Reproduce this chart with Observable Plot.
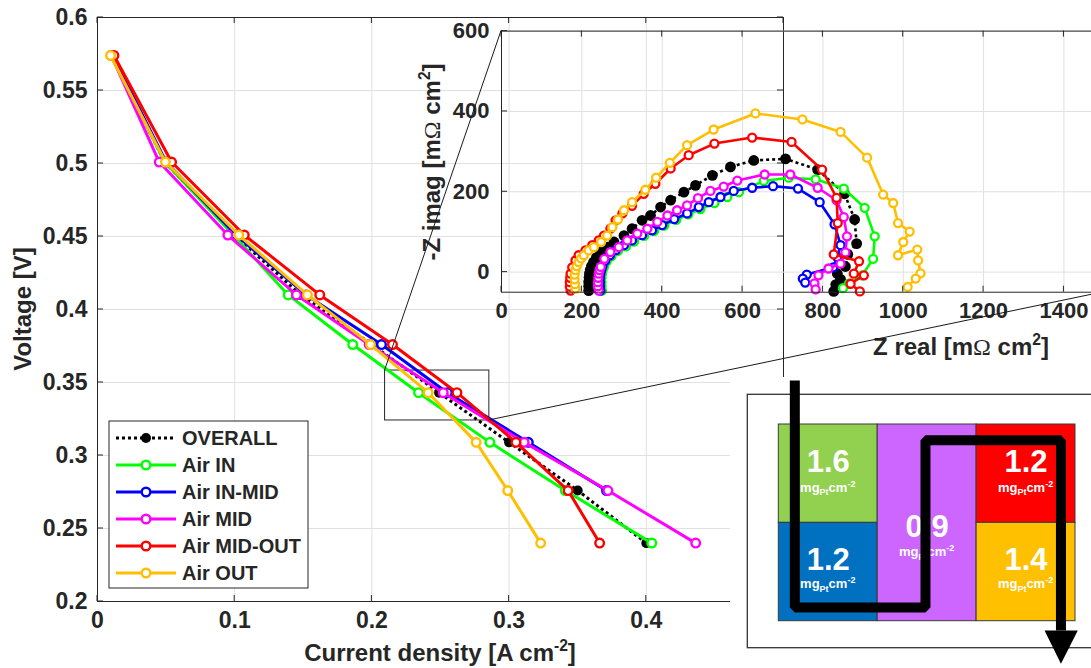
<!DOCTYPE html>
<html><head><meta charset="utf-8">
<script src="https://cdn.jsdelivr.net/npm/d3@7"></script>
<script src="https://cdn.jsdelivr.net/npm/@observablehq/plot@0.6"></script>
<style>
html,body{margin:0;padding:0;background:#fff;}
#wrap{position:relative;width:1091px;height:668px;overflow:hidden;}
#wrap svg{position:absolute;left:0;top:0;}
</style></head><body><div id="wrap"></div>
<script>
// ---------------- data ----------------
const seriesNames  = ["OVERALL", "Air IN", "Air IN-MID", "Air MID", "Air MID-OUT", "Air OUT"];
const seriesColors = ["#000000", "#00ff00", "#0000ff", "#ff00ff", "#ff0000", "#ffbf00"];

// polarization curves: voltage steps [V] and current density [A cm-2] per segment
const voltageSteps     = [0.574, 0.501, 0.451, 0.410, 0.376, 0.343, 0.309, 0.276, 0.240];
const currentOverall   = [0.010, 0.049, 0.100, 0.148, 0.200, 0.249, 0.300, 0.350, 0.400];
const currentAirIn     = [0.010, 0.049, 0.099, 0.139, 0.186, 0.234, 0.286, 0.341, 0.404];
const currentAirInMid  = [0.011, 0.050, 0.101, 0.152, 0.207, 0.255, 0.314, 0.371];
const currentAirMid    = [0.010, 0.045, 0.095, 0.145, 0.198, 0.252, 0.311, 0.372, 0.436];
const currentAirMidOut = [0.012, 0.054, 0.107, 0.162, 0.215, 0.262, 0.305, 0.343, 0.366];
const currentAirOut    = [0.0095, 0.0495, 0.103, 0.153, 0.199, 0.241, 0.276, 0.299, 0.323];

// impedance spectra [Z real, -Z imag] in mOhm cm2
const nyqOverall = [[217,-46],[217,-35],[217,-24],[218,-13],[219,-3],[221,6],[224,15],[229,25],[236,36],[247,50],[263,62],[280,75],[305,91],[325,108],[350,129],[371,141],[396,162],[421,179],[454,199],[483,216],[525,241],[570,262],[628,278],[707,282],[787,255],[854,195],[879,131],[884,71],[862,44],[856,14],[836,-4],[844,-18],[832,-31],[827,-48]];
const nyqAirIn = [[250,-46],[249,-35],[249,-25],[249,-14],[250,-4],[252,5],[255,13],[262,27],[274,40],[290,53],[310,64],[330,76],[355,90],[380,103],[405,116],[435,130],[465,144],[495,157],[530,172],[562,187],[591,199],[653,227],[715,235],[782,231],[852,208],[904,160],[929,89],[925,33],[898,-8],[865,-29],[850,-40]];
const nyqAirInMid = [[246,-46],[245,-35],[245,-25],[245,-14],[246,-4],[248,5],[251,14],[258,28],[270,42],[285,55],[305,67],[325,79],[350,92],[375,104],[400,117],[430,132],[462,146],[491,162],[516,174],[545,187],[578,202],[624,210],[676,214],[738,208],[792,174],[829,119],[844,67],[836,37],[826,12],[760,-6],[750,-16],[756,-26]];
const nyqAirMid = [[242,-46],[240,-35],[240,-25],[241,-14],[242,-4],[244,5],[247,13],[256,33],[271,50],[292,62],[313,79],[338,96],[363,108],[388,125],[413,141],[437,154],[462,166],[489,184],[520,202],[553,213],[587,228],[655,243],[719,243],[787,210],[834,179],[852,137],[860,89],[856,49],[844,21],[814,9],[789,-8],[779,-28],[782,-43]];
const nyqAirMidOut = [[172,-46],[170,-36],[170,-25],[171,-14],[172,-4],[176,12],[184,29],[192,42],[209,54],[226,67],[242,79],[255,91],[271,108],[284,129],[301,146],[325,165],[354,195],[383,220],[421,258],[466,291],[530,320],[624,335],[722,324],[798,255],[834,185],[837,122],[827,44],[890,27],[877,-4],[902,-8],[869,-29],[892,-48]];
const nyqAirOut = [[184,-41],[183,-30],[182,-18],[182,-6],[184,5],[187,15],[192,25],[198,34],[205,42],[217,54],[230,62],[248,75],[263,91],[276,112],[290,131],[305,154],[325,174],[358,205],[385,235],[419,272],[462,316],[528,355],[632,395],[749,380],[844,349],[910,285],[950,193],[975,172],[987,122],[1016,101],[1000,75],[987,42],[1035,56],[1037,29],[1043,-3],[1031,-16],[1011,-37]];

// tick labels
const currentTicks = [0, 0.1, 0.2, 0.3, 0.4, 0.5];
const voltageTicks = [0.2, 0.25, 0.3, 0.35, 0.4, 0.45, 0.5, 0.55, 0.6];
const zRealTicks   = [0, 200, 400, 600, 800, 1000, 1200, 1400];
const zImagTicks   = [0, 200, 400, 600];

// zoom window on the polarization curve (data units)
const zoomWindow = [{x1: 0.2096, x2: 0.2856, y1: 0.324, y2: 0.3582}];

// catalyst loading per zone [mgPt cm-2]
const zoneNames    = ["Air IN", "Air IN-MID", "Air MID", "Air MID-OUT", "Air OUT"];
const zoneLoadings = [1.6, 1.2, 0.9, 1.2, 1.4];
const zoneColors   = ["#92d050", "#0070c0", "#cc66ff", "#ff0000", "#ffc000"];

// ---------------- layout / style ----------------
const W = 1091, H = 668;
const FONT = '"Liberation Sans", Arial, Helvetica, sans-serif';
const INK = "#262626", GRID = "#e0e0e0";
const fmt = d3.format("~g");
const wrap = document.getElementById("wrap");

// zone grid layout in cell units (col,row,w,h, label baselines)
const zoneLayout = [
  {col:0, row:0, w:1, h:1, numY:0.485, unitY:0.689},
  {col:0, row:1, w:1, h:1, numY:1.477, unitY:1.670},
  {col:1, row:0, w:1, h:2, numY:1.139, unitY:1.343},
  {col:2, row:0, w:1, h:1, numY:0.485, unitY:0.689},
  {col:2, row:1, w:1, h:1, numY:1.477, unitY:1.670}
];
const diagramBg    = [{x1:-0.488, x2:3.5, y1:-0.478, y2:2.6}];
const diagramFrame = [{x1:-0.3135, x2:3.4, y1:-0.302, y2:2.2745}];
const flowPath  = [[0.162,-0.447],[0.162,1.861],[1.483,1.861],[1.483,0.160],[2.853,0.160],[2.853,2.095]];
const arrowHead = [[2.687,2.095],[3.023,2.095],[2.853,2.433]];

function addRich(svg, {x, y, rotate = 0, anchor = "middle", size, weight = "bold", fill = INK, parts}) {
  const t = d3.select(svg).append("text")
    .attr("transform", `translate(${x},${y}) rotate(${rotate})`)
    .attr("text-anchor", anchor).attr("font-size", size).attr("font-weight", weight)
    .attr("fill", fill).attr("font-family", FONT);
  let shift = 0;
  for (const p of parts) {
    const ts = t.append("tspan").text(p.t);
    const target = p.sup ? -0.42 * size : p.sub ? 0.25 * size : 0;
    if (target !== shift) { ts.attr("dy", target - shift); shift = target; }
    if (p.sup || p.sub) ts.attr("font-size", size * 0.65);
    if (p.family) ts.attr("font-family", p.family).attr("font-weight", p.weight || "normal");
  }
  return t;
}

function addTicks(svg, sx, sy, xt, yt, len = 6) {
  const [l, r] = sx.range, [b, tp] = sy.range;
  const g = d3.select(svg).append("g").attr("stroke", INK).attr("stroke-width", 1);
  for (const v of xt) {
    const x = sx.apply(v);
    g.append("line").attr("x1", x).attr("x2", x).attr("y1", b).attr("y2", b - len);
    g.append("line").attr("x1", x).attr("x2", x).attr("y1", tp).attr("y2", tp + len);
  }
  for (const v of yt) {
    const y = sy.apply(v);
    g.append("line").attr("x1", l).attr("x2", l + len).attr("y1", y).attr("y2", y);
    g.append("line").attr("x1", r).attr("x2", r - len).attr("y1", y).attr("y2", y);
  }
}

// ---------------- main polarization plot ----------------
const polCurrents = [currentOverall, currentAirIn, currentAirInMid, currentAirMid, currentAirMidOut, currentAirOut];
const mainMarks = [
  Plot.ruleX(currentTicks, {x: d => d, stroke: GRID}),
  Plot.ruleY(voltageTicks, {y: d => d, stroke: GRID}),
  Plot.rect(zoomWindow, {x1: "x1", x2: "x2", y1: "y1", y2: "y2", fill: "none", stroke: INK, strokeWidth: 1})
];
seriesNames.forEach((name, i) => {
  const data = polCurrents[i].map((c, j) => ({series: name, current: c, voltage: voltageSteps[j]}));
  const filled = i === 0;
  mainMarks.push(Plot.line(data, {x: "current", y: "voltage", stroke: seriesColors[i], strokeWidth: 3,
    strokeDasharray: filled ? "3,3" : undefined, strokeLinecap: filled ? "butt" : "round"}));
  mainMarks.push(Plot.dot(data, {x: "current", y: "voltage", r: filled ? 5 : 4.3,
    fill: filled ? "#000" : "#fff", stroke: filled ? "none" : seriesColors[i], strokeWidth: 2.4}));
});
mainMarks.push(Plot.frame({stroke: INK}));
mainMarks.push(Plot.text(currentTicks, {x: d => d, frameAnchor: "bottom", dy: 26, text: d => fmt(d),
  fontSize: 23, fontWeight: "bold", fill: INK}));
mainMarks.push(Plot.text(voltageTicks, {y: d => d, frameAnchor: "left", dx: -10, textAnchor: "end",
  text: d => fmt(d), fontSize: 23, fontWeight: "bold", fill: INK}));

const mainPlot = Plot.plot({
  width: W, height: H, marginLeft: 97, marginRight: W - 783, marginTop: 17, marginBottom: H - 601,
  x: {domain: [0, 0.5], axis: null}, y: {domain: [0.2, 0.6], axis: null},
  style: {fontFamily: FONT, background: "white", maxWidth: "none"},
  marks: mainMarks
});
wrap.appendChild(mainPlot);
const mx = mainPlot.scale("x"), my = mainPlot.scale("y");
addTicks(mainPlot, mx, my, currentTicks, voltageTicks);
addRich(mainPlot, {x: 440, y: 661, size: 24, parts: [{t: "Current density [A cm"}, {t: "-2", sup: true}, {t: "]"}]});
addRich(mainPlot, {x: 31, y: 309, rotate: -90, size: 24, parts: [{t: "Voltage [V]"}]});

// legend
{
  const lg = d3.select(mainPlot).append("g").attr("font-family", FONT);
  lg.append("rect").attr("x", 109).attr("y", 421).attr("width", 199).attr("height", 167)
    .attr("fill", "#fff").attr("stroke", INK).attr("stroke-width", 1);
  seriesNames.forEach((n, i) => {
    const y = 438 + 27 * i;
    lg.append("line").attr("x1", 116).attr("x2", 176).attr("y1", y).attr("y2", y)
      .attr("stroke", seriesColors[i]).attr("stroke-width", 3)
      .attr("stroke-dasharray", i === 0 ? "3,3" : null);
    lg.append("circle").attr("cx", 146).attr("cy", y).attr("r", i === 0 ? 5 : 4.3)
      .attr("fill", i === 0 ? "#000" : "#fff").attr("stroke", i === 0 ? "none" : seriesColors[i]).attr("stroke-width", 2.4);
    lg.append("text").attr("x", 182).attr("y", y + 7).attr("font-size", 20).attr("font-weight", "bold")
      .attr("text-anchor", "start").attr("fill", INK).text(n);
  });
}

// ---------------- inset Nyquist plot ----------------
const nyqSeries = [nyqOverall, nyqAirIn, nyqAirInMid, nyqAirMid, nyqAirMidOut, nyqAirOut];
const insetW = 1110;
const insetMarks = [
  Plot.ruleX(zRealTicks, {x: d => d, stroke: GRID}),
  Plot.ruleY(zImagTicks, {y: d => d, stroke: GRID})
];
seriesNames.forEach((name, i) => {
  const data = nyqSeries[i].map(([zr, zi]) => ({series: name, zr, zi}));
  const filled = i === 0;
  insetMarks.push(Plot.line(data, {x: "zr", y: "zi", stroke: seriesColors[i], strokeWidth: 2.6,
    strokeDasharray: filled ? "3,3" : undefined, strokeLinecap: filled ? "butt" : "round"}));
  insetMarks.push(Plot.dot(data, {x: "zr", y: "zi", r: filled ? 5.4 : 4,
    fill: filled ? "#000" : "#fff", stroke: filled ? "none" : seriesColors[i], strokeWidth: 2.3}));
});
insetMarks.push(Plot.frame({stroke: INK}));
insetMarks.push(Plot.text(zRealTicks, {x: d => d, frameAnchor: "bottom", dy: 26, text: d => fmt(d),
  fontSize: 22, fontWeight: "bold", fill: INK}));
insetMarks.push(Plot.text(zImagTicks, {y: d => d, frameAnchor: "left", dx: -12, textAnchor: "end",
  text: d => fmt(d), fontSize: 22, fontWeight: "bold", fill: INK}));
const insetPlot = Plot.plot({
  width: insetW, height: H, marginLeft: 501, marginRight: insetW - 1103.6, marginTop: 30.6, marginBottom: H - 291.7,
  x: {domain: [0, 1500], axis: null}, y: {domain: [-50, 600], axis: null},
  style: {fontFamily: FONT, background: "transparent", maxWidth: "none"},
  marks: insetMarks
});
wrap.appendChild(insetPlot);
const ix = insetPlot.scale("x"), iy = insetPlot.scale("y");
addTicks(insetPlot, ix, iy, zRealTicks, zImagTicks);
addRich(insetPlot, {x: 961, y: 355, size: 24, parts: [{t: "Z real [m"}, {t: "Ω", family: '"Liberation Serif", serif'}, {t: " cm"}, {t: "2", sup: true}, {t: "]"}]});
addRich(insetPlot, {x: 440, y: 162, rotate: -90, size: 24, parts: [{t: "-Z imag [m"}, {t: "Ω", family: '"Liberation Serif", serif'}, {t: " cm"}, {t: "2", sup: true}, {t: "]"}]});

// ---------------- connector lines (zoom window -> inset) ----------------
{
  const svg = d3.create("svg").attr("width", W).attr("height", H).style("position", "absolute").style("left", 0).style("top", 0);
  const z = zoomWindow[0];
  const g = svg.append("g").attr("stroke", "#1a1a1a").attr("stroke-width", 1);
  g.append("line").attr("x1", mx.apply(z.x1)).attr("y1", my.apply(z.y2))
    .attr("x2", ix.apply(0)).attr("y2", iy.apply(600));
  g.append("line").attr("x1", mx.apply(z.x2)).attr("y1", my.apply(z.y1))
    .attr("x2", ix.apply(1500)).attr("y2", iy.apply(-50));
  wrap.appendChild(svg.node());
}

// ---------------- flow-field / loading diagram ----------------
const zones = zoneNames.map((n, i) => ({name: n, loading: zoneLoadings[i], color: zoneColors[i], ...zoneLayout[i]}));
const diag = Plot.plot({
  width: W, height: H,
  x: {domain: [0, 3], range: [778.3, 1075], axis: null},
  y: {domain: [0, 2], range: [424, 620.7], axis: null},
  color: {type: "identity"},
  style: {fontFamily: FONT, background: "transparent", maxWidth: "none"},
  marks: [
    Plot.rect(diagramBg, {x1: "x1", x2: "x2", y1: "y1", y2: "y2", fill: "white"}),
    Plot.rect(diagramFrame, {x1: "x1", x2: "x2", y1: "y1", y2: "y2", fill: "white", stroke: "#333", strokeWidth: 1.3}),
    Plot.rect(zones, {x1: d => d.col, x2: d => d.col + d.w, y1: d => d.row, y2: d => d.row + d.h,
      fill: d => d.color, stroke: "#3a3a3a", strokeWidth: 1}),
    Plot.text(zones, {x: d => d.col + d.w / 2, y: d => d.numY, text: d => d.loading.toFixed(1),
      fill: "white", fontSize: 31, fontWeight: "bold", lineAnchor: "bottom"}),
    Plot.line(flowPath, {x: d => d[0], y: d => d[1], stroke: "black", strokeWidth: 10,
      strokeLinejoin: "miter", strokeLinecap: "butt"}),
    Plot.line(arrowHead, {x: d => d[0], y: d => d[1], fill: "black", stroke: "none"})
  ]
});
wrap.appendChild(diag);
{
  const dx = diag.scale("x"), dy = diag.scale("y");
  const ug = d3.select(diag).insert("g", 'g[aria-label="line"]');
  zones.forEach(z => {
    const x = dx.apply(z.col + z.w / 2), y = dy.apply(z.unitY);
    const t = ug.append("text").attr("x", x).attr("y", y).attr("text-anchor", "middle")
      .attr("font-family", FONT).attr("font-size", 13).attr("font-weight", "bold").attr("fill", "white");
    t.append("tspan").text("mg");
    t.append("tspan").attr("font-size", 9).attr("dy", 3.5).text("Pt");
    t.append("tspan").attr("dy", -3.5).text("cm");
    t.append("tspan").attr("font-size", 9).attr("dy", -5).text("-2");
  });
}
</script></body></html>
